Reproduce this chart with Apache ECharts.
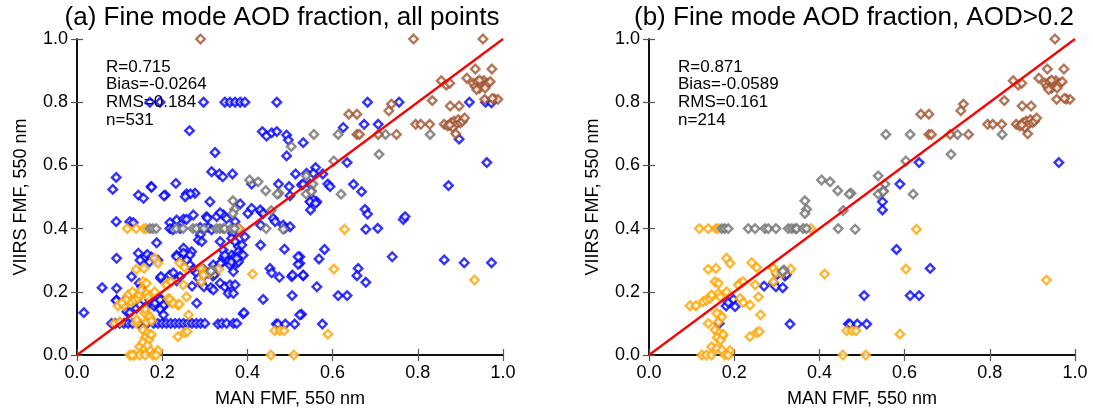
<!DOCTYPE html>
<html>
<head>
<meta charset="utf-8">
<script src="https://cdn.jsdelivr.net/npm/echarts@6/dist/echarts.min.js"></script>
<style>
  html, body { margin: 0; padding: 0; background: #fff; }
  #chart { width: 1093px; height: 414px; }
</style>
</head>
<body>
<div id="chart"></div>
<script>
// Axis ticks shared by both panels
const tickValues = [0.0, 0.2, 0.4, 0.6, 0.8, 1.0];

// Panel titles and statistics
const panelTitles = ['(a) Fine mode AOD fraction, all points', '(b) Fine mode AOD fraction, AOD>0.2'];
const statsA = ['R=0.715', 'Bias=-0.0264', 'RMS=0.184', 'n=531'];
const statsB = ['R=0.871', 'Bias=-0.0589', 'RMS=0.161', 'n=214'];

// [MAN FMF, VIIRS FMF] pairs, blue sites, AOD > 0.2
const blueHigh = [
  [0.27,0.218],[0.292,0.227],[0.298,0.216],[0.314,0.213],[0.301,0.255],[0.319,0.25],[0.323,0.255],
  [0.181,0.155],[0.186,0.166],[0.198,0.176],[0.202,0.153],[0.165,0.1],[0.331,0.098],
  [0.505,0.188],[0.468,0.098],[0.472,0.098],[0.489,0.098],[0.511,0.098],
  [0.589,0.541],[0.548,0.485],[0.548,0.459],[0.581,0.334],[0.66,0.274],[0.613,0.188],[0.634,0.188],
  [0.634,0.609],[0.962,0.609]
];
// blue sites, AOD <= 0.2
const blueLow = [
  [0.171,0.8],[0.195,0.8],[0.297,0.8],[0.347,0.8],[0.359,0.8],[0.371,0.8],[0.383,0.8],[0.394,0.8],
  [0.469,0.8],[0.682,0.8],[0.756,0.8],[0.921,0.8],[0.959,0.8],[0.973,0.798],
  [0.264,0.71],[0.324,0.641],[0.092,0.562],[0.084,0.524],[0.174,0.533],[0.232,0.543],[0.144,0.506],
  [0.156,0.496],[0.207,0.506],[0.257,0.51],[0.277,0.512],[0.266,0.51],
  [0.316,0.58],[0.334,0.573],[0.342,0.564],[0.365,0.573],
  [0.435,0.707],[0.445,0.693],[0.457,0.703],[0.469,0.707],[0.492,0.696],[0.496,0.68],[0.531,0.672],
  [0.492,0.63],[0.56,0.593],[0.41,0.541],[0.473,0.541],[0.498,0.533],[0.513,0.573],[0.539,0.575],
  [0.527,0.538],[0.547,0.541],[0.625,0.72],[0.674,0.73],[0.707,0.73],[0.897,0.683],
  [0.577,0.573],[0.594,0.533],[0.649,0.54],[0.668,0.517],[0.872,0.536],
  [0.563,0.485],[0.676,0.461],[0.682,0.446],[0.766,0.429],[0.77,0.438],[0.678,0.398],[0.706,0.401],
  [0.568,0.304],[0.523,0.311],[0.523,0.29],[0.74,0.311],[0.862,0.301],[0.909,0.292],[0.973,0.292],
  [0.657,0.251],[0.678,0.23],[0.531,0.251],[0.563,0.216],[0.527,0.129],[0.576,0.098],
  [0.312,0.485],[0.383,0.478],[0.432,0.453],[0.461,0.432],[0.465,0.422],[0.484,0.411],[0.5,0.406],
  [0.531,0.541],[0.555,0.491],[0.344,0.443],[0.351,0.432],[0.328,0.438],[0.304,0.438],[0.273,0.443],
  [0.218,0.419],[0.234,0.427],[0.25,0.43],[0.257,0.429],[0.092,0.422],[0.124,0.422],[0.132,0.419],
  [0.218,0.4],[0.242,0.4],[0.3,0.4],[0.225,0.396],[0.289,0.404],[0.308,0.404],[0.365,0.4],[0.38,0.4],
  [0.187,0.355],[0.144,0.322],[0.093,0.306],[0.16,0.309],[0.148,0.3],[0.165,0.318],[0.175,0.31],
  [0.19,0.3],[0.17,0.295],[0.128,0.248],[0.196,0.243],[0.059,0.213],[0.093,0.211],[0.016,0.134],
  [0.093,0.174],[0.109,0.169],[0.117,0.137],[0.124,0.134],[0.14,0.148],[0.148,0.158],[0.16,0.151],
  [0.171,0.174],[0.183,0.164],[0.195,0.174],[0.203,0.158],[0.195,0.145],[0.146,0.227],[0.152,0.216],
  [0.092,0.172],
  [0.081,0.1],[0.09,0.1],[0.1,0.1],[0.11,0.1],[0.12,0.1],[0.13,0.1],[0.145,0.1],[0.18,0.1],[0.19,0.1],
  [0.2,0.1],[0.21,0.1],[0.22,0.1],[0.23,0.1],[0.24,0.1],[0.25,0.1],[0.26,0.1],[0.27,0.1],[0.28,0.1],
  [0.29,0.1],[0.3,0.1],[0.34,0.1],[0.351,0.1],[0.367,0.1],[0.375,0.1],
  [0.39,0.13],[0.523,0.127],[0.437,0.176],[0.453,0.274],[0.457,0.26],[0.475,0.246],[0.504,0.248],
  [0.506,0.253],[0.531,0.253],[0.519,0.287],[0.431,0.348],[0.487,0.335],
  [0.175,0.531],[0.204,0.504],[0.254,0.501],[0.5,0.504],[0.555,0.575],[0.547,0.485],[0.56,0.48],
  [0.336,0.45],[0.306,0.433],[0.371,0.422],[0.401,0.448],[0.41,0.464],[0.43,0.459],[0.437,0.448],
  [0.488,0.401],[0.431,0.411],
  [0.289,0.38],[0.285,0.364],[0.293,0.359],[0.316,0.396],[0.336,0.359],[0.343,0.332],[0.365,0.385],
  [0.363,0.369],[0.371,0.359],[0.379,0.343],[0.394,0.374],[0.387,0.348],[0.379,0.327],[0.363,0.316],
  [0.25,0.338],[0.269,0.327],[0.234,0.316],[0.246,0.311],[0.343,0.306],[0.367,0.306],[0.383,0.316],
  [0.519,0.311],[0.34,0.292],[0.375,0.29],[0.359,0.285],
  [0.197,0.248],[0.218,0.253],[0.226,0.26],[0.242,0.248],[0.234,0.235],
  [0.265,0.285],[0.273,0.271],[0.281,0.259],[0.285,0.243],[0.297,0.271],[0.308,0.259],[0.32,0.285],
  [0.328,0.274],[0.336,0.29],[0.32,0.206],[0.336,0.227],[0.347,0.216],[0.359,0.222],[0.355,0.195],
  [0.367,0.195],[0.281,0.164],[0.367,0.264],[0.371,0.222],[0.392,0.134],
  [0.347,0.316],[0.363,0.295],[0.379,0.295],[0.39,0.316],[0.375,0.306],
  [0.234,0.311],[0.25,0.322],[0.265,0.316],[0.246,0.301],[0.257,0.301],[0.203,0.127]
];

// orange sites, AOD > 0.2
const orangeHigh = [
  [0.118,0.4],[0.139,0.4],[0.157,0.4],[0.163,0.4],[0.38,0.4],
  [0.182,0.306],[0.19,0.29],[0.139,0.271],[0.157,0.274],[0.155,0.232],[0.163,0.227],
  [0.096,0.156],[0.11,0.156],[0.127,0.169],[0.135,0.174],[0.143,0.179],[0.147,0.19],
  [0.163,0.195],[0.182,0.2],[0.167,0.184],
  [0.139,0.1],[0.163,0.105],[0.167,0.127],[0.171,0.121],[0.159,0.132],
  [0.155,0.079],[0.165,0.07],[0.172,0.06],[0.16,0.055],[0.168,0.047],[0.174,0.065],
  [0.147,0.026],[0.159,0.021],[0.171,0.016],[0.19,0.014],
  [0.124,0],[0.135,0],[0.147,0],[0.178,0],[0.186,0],[0.455,0],[0.509,0],
  [0.214,0.227],[0.21,0.222],[0.221,0.232],[0.214,0.179],[0.221,0.166],
  [0.241,0.292],[0.253,0.277],[0.249,0.222],[0.237,0.158],[0.257,0.184],[0.262,0.127],
  [0.237,0.058],[0.253,0.071],[0.259,0.074],
  [0.292,0.274],[0.298,0.26],[0.312,0.258],[0.333,0.272],[0.292,0.232],[0.412,0.256],
  [0.464,0.077],[0.476,0.077],[0.486,0.077],
  [0.628,0.398],[0.603,0.272],[0.933,0.237],[0.589,0.066]
];
// orange sites, AOD <= 0.2
const orangeLow = [
  [0.087,0.1],[0.101,0.105],[0.14,0.111],[0.175,0.108],[0.218,0.176],[0.226,0.164],[0.24,0.161],
  [0.297,0.253],[0.12,0.19],[0.13,0.2],[0.115,0.175],[0.105,0.165],[0.15,0.205],[0.16,0.145],
  [0.155,0.04],[0.165,0.03],[0.13,0.0],[0.16,0.0]
];

// grey sites (all AOD > 0.2)
const greyHigh = [
  [0.556,0.698],[0.613,0.698],[0.724,0.698],[0.829,0.698],[0.709,0.635],[0.603,0.614],
  [0.538,0.567],[0.554,0.541],[0.55,0.52],[0.538,0.509],[0.62,0.509],[0.474,0.512],[0.55,0.517],
  [0.484,0.398],[0.405,0.554],[0.425,0.548],[0.443,0.52],[0.47,0.509],
  [0.366,0.488],[0.37,0.461],[0.366,0.448],[0.456,0.457],
  [0.171,0.4],[0.178,0.4],[0.186,0.4],[0.233,0.4],[0.249,0.4],[0.272,0.4],[0.28,0.4],[0.298,0.4],
  [0.327,0.4],[0.335,0.4],[0.343,0.4],[0.347,0.4],[0.362,0.4],[0.37,0.4],[0.444,0.4],
  [0.317,0.269],[0.314,0.265]
];
const greyLow = [[0.503,0.66]];

// brown sites
const brownHigh = [
  [0.953,1.0],[0.935,0.905],[0.974,0.905],[0.855,0.868],[0.867,0.854],[0.875,0.86],[0.915,0.876],
  [0.93,0.86],[0.935,0.85],[0.94,0.865],[0.945,0.844],[0.95,0.86],[0.955,0.868],[0.96,0.855],
  [0.965,0.86],[0.97,0.865],[0.945,0.87],[0.958,0.845],[0.938,0.84],
  [0.957,0.809],[0.98,0.81],[0.988,0.809],[0.975,0.812],[0.834,0.805],[0.876,0.788],[0.897,0.788],
  [0.738,0.794],[0.732,0.773],[0.638,0.762],[0.657,0.762],
  [0.657,0.698],[0.663,0.698],[0.707,0.698],[0.75,0.698],
  [0.795,0.73],[0.807,0.73],[0.828,0.73],
  [0.862,0.73],[0.87,0.725],[0.878,0.735],[0.885,0.74],[0.89,0.73],[0.895,0.745],[0.9,0.735],
  [0.905,0.74],[0.91,0.75],[0.882,0.72],[0.875,0.728],[0.889,0.70]
];
const brownLow = [[0.29,1.0],[0.79,1.0]];

const colors = { blue: '#0000ff', orange: '#ffa500', grey: '#707070', brown: '#a0522d' };
const FONT = 'Liberation Sans, Arial, Helvetica, sans-serif';

const grids = [
  { left: 77, top: 39, width: 426, height: 316 },
  { left: 649, top: 39, width: 426, height: 316 }
];
// horizontal centres of the two panel titles
const titleCentres = [282, 854];

function valueAxis(gridIndex, pos, withLabels, name) {
  const ax = {
    type: 'value', gridIndex, position: pos, min: 0, max: 1, interval: 0.2,
    axisLine: { show: true, lineStyle: { color: '#000', width: 1.5 } },
    axisTick: { show: true, inside: true, length: 6, lineStyle: { color: '#555', width: 1.2 } },
    splitLine: { show: false },
    axisLabel: {
      show: withLabels, fontSize: 18, color: '#000', fontFamily: FONT, margin: 9,
      formatter: v => v.toFixed(1)
    }
  };
  if (name) {
    ax.name = name;
    ax.nameLocation = 'middle';
    ax.nameTextStyle = { fontSize: 18, color: '#000', fontFamily: FONT };
  }
  return ax;
}

const xAxes = [], yAxes = [];
[0, 1].forEach(g => {
  const xb = valueAxis(g, 'bottom', true, 'MAN FMF, 550 nm'); xb.nameGap = 35;
  xAxes.push(xb, valueAxis(g, 'top', false));
  const yl = valueAxis(g, 'left', true, 'VIIRS FMF, 550 nm'); yl.nameGap = 47;
  yAxes.push(yl, valueAxis(g, 'right', false));
});

function scatter(data, color, panel) {
  return {
    type: 'scatter', xAxisIndex: panel * 2, yAxisIndex: panel * 2,
    data, symbol: 'diamond', symbolSize: [8.5, 8.5], silent: true,
    itemStyle: { color: '#fff', borderColor: color, borderWidth: 2.4 }
  };
}
function oneToOne(panel) {
  return {
    type: 'line', xAxisIndex: panel * 2, yAxisIndex: panel * 2,
    data: [[0, 0], [1, 1]], symbol: 'none', silent: true, z: 5,
    lineStyle: { color: '#ff0000', width: 2.2 }
  };
}

const series = [
  scatter(blueHigh.concat(blueLow), colors.blue, 0),
  scatter(orangeHigh.concat(orangeLow), colors.orange, 0),
  scatter(greyHigh.concat(greyLow), colors.grey, 0),
  scatter(brownHigh.concat(brownLow), colors.brown, 0),
  oneToOne(0),
  scatter(blueHigh, colors.blue, 1),
  scatter(orangeHigh, colors.orange, 1),
  scatter(greyHigh, colors.grey, 1),
  scatter(brownHigh, colors.brown, 1),
  oneToOne(1)
];

const graphic = [];
panelTitles.forEach((t, i) => {
  graphic.push({
    type: 'text', x: titleCentres[i], y: 5,
    style: { text: t, font: '26px ' + FONT, fill: '#000', textAlign: 'center', textVerticalAlign: 'top' }
  });
});
[statsA, statsB].forEach((s, i) => {
  graphic.push({
    type: 'text', x: grids[i].left + 29, y: 58, z: 10,
    style: { text: s.join('\n'), font: '17px ' + FONT, fill: '#000', lineHeight: 17.7 }
  });
});

const chart = echarts.init(document.getElementById('chart'), null, { renderer: 'canvas' });
chart.setOption({
  animation: false,
  backgroundColor: '#fff',
  grid: grids,
  xAxis: xAxes,
  yAxis: yAxes,
  series,
  graphic
});
</script>
</body>
</html>
